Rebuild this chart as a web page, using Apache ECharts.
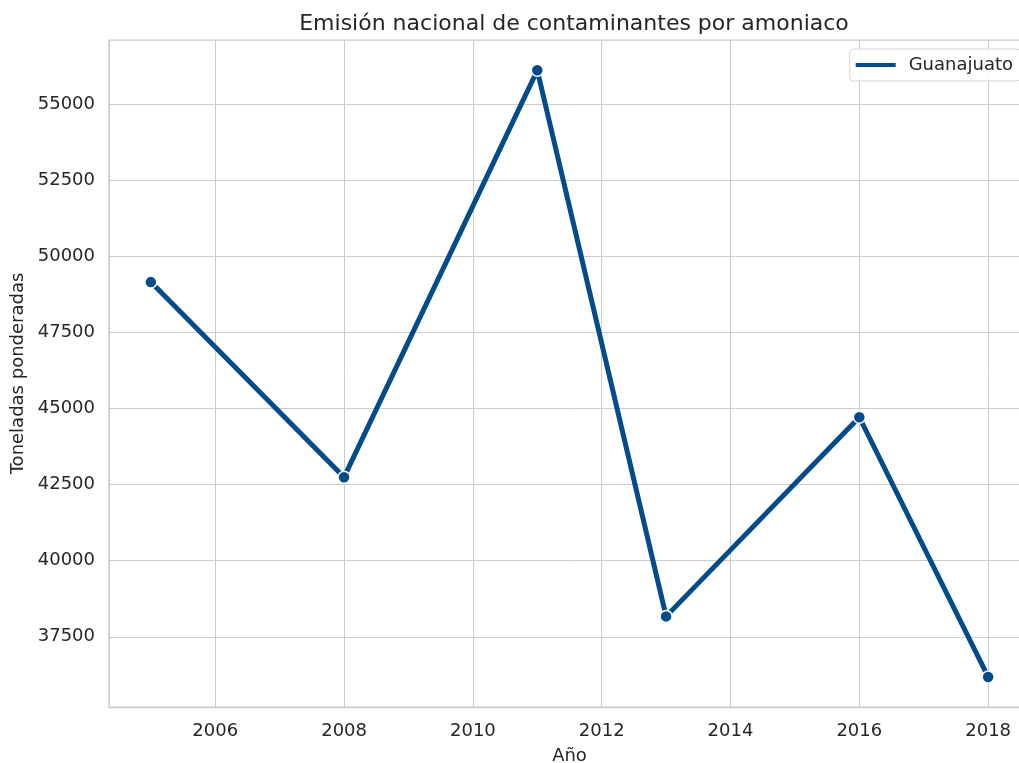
<!DOCTYPE html>
<html>
<head>
<meta charset="utf-8">
<script src="https://cdn.jsdelivr.net/npm/echarts@6/dist/echarts.min.js"></script>
<style>
    html, body { margin: 0; padding: 0; background: #fff; overflow: hidden; }
    #chart { width: 1031px; height: 763px; }
</style>
</head>
<body>
<div id="chart"></div>
<script>
const years = [2005, 2008, 2011, 2013, 2016, 2018]
const emissions = [49156, 42745, 56116, 38170, 44714, 36180]
const xTicks = [2006, 2008, 2010, 2012, 2014, 2016, 2018]
const yTicks = [37500, 40000, 42500, 45000, 47500, 50000, 52500, 55000]
const seriesName = "Guanajuato"

const textColor = "#262626"
const gridColor = "#cccccc"
const lineColor = "#034b8a"
const font = "DejaVu Sans"

const chart = echarts.init(document.getElementById("chart"), null, { renderer: "canvas" })

chart.setOption({
    animation: false,
    backgroundColor: "#ffffff",
    textStyle: { fontFamily: font, color: textColor },
    title: {
        text: "Emisión nacional de contaminantes por amoniaco",
        left: 569,
        textAlign: "center",
        top: 8,
        textStyle: { fontFamily: font, fontSize: 22, fontWeight: "normal", color: textColor }
    },
    legend: {
        right: 10,
        top: 49,
        padding: [7, 8, 7, 6],
        itemWidth: 40,
        itemHeight: 4,
        backgroundColor: "rgba(255,255,255,0.8)",
        borderColor: "#d6d6d6",
        borderWidth: 1,
        borderRadius: 4,
        itemStyle: { color: lineColor, borderWidth: 0 },
        lineStyle: { width: 4, color: lineColor },
        textStyle: { fontFamily: font, fontSize: 18, color: textColor, padding: [0, 0, 0, 8] },
        data: [{ name: seriesName, icon: "rect" }]
    },
    grid: {
        left: 109,
        right: 1,
        top: 40,
        bottom: 56,
        outerBoundsMode: "none",
        containLabel: false,
        show: true,
        borderColor: gridColor,
        borderWidth: 1.25
    },
    xAxis: {
        type: "value",
        min: 2004.35,
        max: 2018.65,
        name: "Año",
        nameLocation: "middle",
        nameGap: 40,
        nameTextStyle: { fontFamily: font, fontSize: 18, color: textColor },
        axisLine: { show: true, lineStyle: { color: gridColor, width: 1.25 } },
        axisTick: { show: false, customValues: xTicks },
        axisLabel: {
            customValues: xTicks,
            formatter: v => String(v),
            margin: 15,
            fontFamily: font,
            fontSize: 18,
            color: textColor
        },
        splitLine: { show: true, lineStyle: { color: gridColor, width: 1 } }
    },
    yAxis: {
        type: "value",
        min: 35192,
        max: 57112,
        name: "Toneladas ponderadas",
        nameLocation: "middle",
        nameGap: 80,
        nameTextStyle: { fontFamily: font, fontSize: 18, color: textColor },
        axisLine: { show: true, lineStyle: { color: gridColor, width: 1.25 } },
        axisTick: { show: false, customValues: yTicks },
        axisLabel: {
            customValues: yTicks,
            formatter: v => String(v),
            margin: 14,
            fontFamily: font,
            fontSize: 18,
            color: textColor
        },
        splitLine: { show: true, lineStyle: { color: gridColor, width: 1 } }
    },
    series: [{
        name: seriesName,
        type: "line",
        data: years.map((y, i) => [y, emissions[i]]),
        lineStyle: { color: lineColor, width: 5 },
        itemStyle: { color: lineColor, borderColor: "#ffffff", borderWidth: 1.5 },
        symbol: "circle",
        symbolSize: 12,
        showSymbol: true
    }]
})
</script>
</body>
</html>
